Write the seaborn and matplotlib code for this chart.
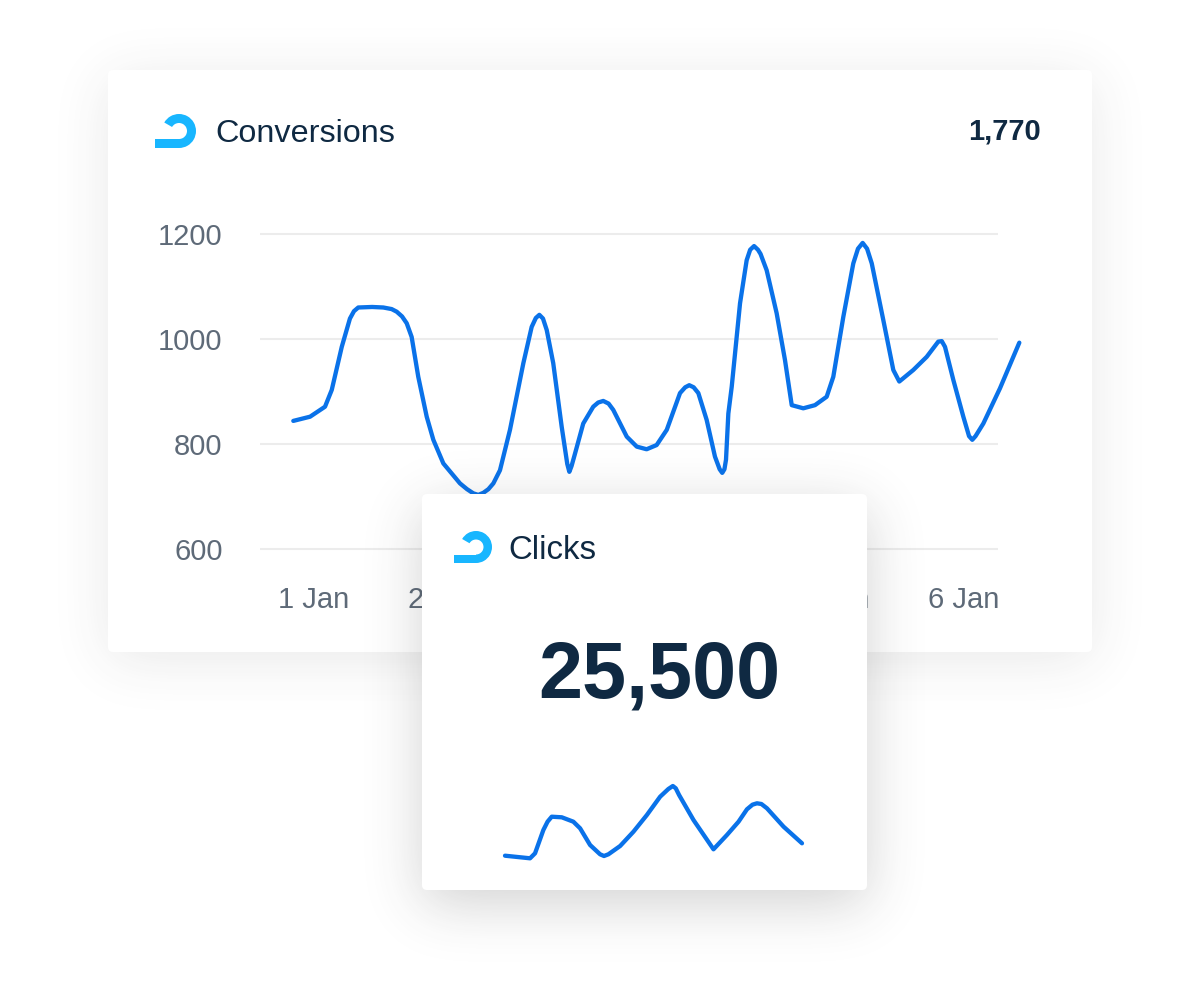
import numpy as np
import pandas as pd
import seaborn as sns
import matplotlib.pyplot as plt
from matplotlib.patches import FancyBboxPatch, Wedge, Rectangle

# Conversions by day
conv_day = [0.843, 0.972, 1.087, 1.139, 1.216, 1.279, 1.31, 1.343, 1.45, 1.536,
            1.60, 1.639, 1.68, 1.716, 1.754, 1.805, 1.870, 1.921, 1.998, 2.126,
            2.18, 2.229, 2.267, 2.306, 2.345, 2.383, 2.434, 2.511, 2.614, 2.678,
            2.71, 2.737, 2.765, 2.794, 2.844, 2.909, 2.952, 2.968, 2.985, 3.012,
            3.075, 3.152, 3.19, 3.229, 3.27, 3.306, 3.410, 3.487, 3.563, 3.640,
            3.718, 3.820, 3.86, 3.891, 3.925, 3.961, 4.025, 4.089, 4.125, 4.145,
            4.162, 4.174, 4.192, 4.218, 4.282, 4.333, 4.36, 4.39, 4.42, 4.44,
            4.487, 4.564, 4.628, 4.680, 4.769, 4.859, 4.949, 5.000, 5.077, 5.154,
            5.19, 5.226, 5.26, 5.296, 5.385, 5.462, 5.508, 5.616, 5.719, 5.808,
            5.835, 5.860, 5.924, 6.001, 6.045, 6.070, 6.095, 6.155, 6.283, 6.432]
conv_value = [844, 852, 871, 903, 985, 1039, 1053, 1060, 1061, 1060,
              1057, 1052, 1043, 1030, 1004, 928, 852, 808, 763, 725,
              714, 706, 703, 707, 714, 725, 750, 827, 954, 1023,
              1040, 1046, 1039, 1017, 954, 833, 762, 747, 758, 782,
              839, 871, 879, 882, 877, 865, 814, 795, 790, 798,
              827, 897, 908, 912, 908, 897, 846, 776, 752, 745,
              752, 770, 858, 909, 1068, 1150, 1170, 1177, 1170, 1162,
              1131, 1049, 960, 874, 868, 874, 890, 928, 1042, 1144,
              1172, 1183, 1172, 1144, 1036, 941, 919, 941, 966, 995,
              996, 985, 922, 852, 815, 808, 815, 839, 906, 993]

conv_ticks = [600, 800, 1000, 1200]
day_ticks = [1, 2, 3, 4, 5, 6]
day_labels = ['1 Jan', '2 Jan', '3 Jan', '4 Jan', '5 Jan', '6 Jan']
conv_total = '1,770'

# Clicks sparkline
clicks_day = [1.0, 1.506, 1.607, 1.775, 1.86, 1.944, 2.147, 2.381, 2.517, 2.719,
              2.921, 3.0, 3.089, 3.326, 3.595, 3.866, 4.134, 4.30, 4.391, 4.45,
              4.517, 4.808, 5.212, 5.483, 5.718, 5.888, 6.0, 6.090, 6.18, 6.292,
              6.628, 7.0]
clicks_value = [3129, 3051, 3201, 3900, 4150, 4299, 4281, 4149, 3951, 3450,
                3171, 3120, 3171, 3420, 3849, 4350, 4899, 5130, 5220, 5150,
                4950, 4200, 3321, 3750, 4149, 4521, 4660, 4701, 4680, 4551,
                3999, 3501]
clicks_total = '25,500'

sns.set_theme(style='white')
plt.rcParams['font.family'] = ['Liberation Sans', 'DejaVu Sans']

LINE = '#0a72e9'
NAVY = '#0f2942'
GREY = '#5e6a78'
LOGO = '#18b6ff'

fig = plt.figure(figsize=(12, 10), dpi=100)
fig.patch.set_facecolor('white')


def overlay(z):
    a = fig.add_axes([0, 0, 1, 1], zorder=z)
    a.set_xlim(0, 1200)
    a.set_ylim(1000, 0)
    a.axis('off')
    a.patch.set_alpha(0)
    return a


def blur_1d(n, lo, hi, sigma):
    pos = np.arange(n) + 0.5
    box = ((pos >= lo) & (pos <= hi)).astype(float)
    k = np.arange(-3 * sigma, 3 * sigma + 1)
    k = np.exp(-0.5 * (k / sigma) ** 2)
    return np.convolve(box, k / k.sum(), mode='same')


def card(a, x0, y0, x1, y1, sigma, strength, dy):
    alpha = np.outer(blur_1d(1000, y0 + dy, y1 + dy, sigma), blur_1d(1200, x0, x1, sigma))
    img = np.zeros((1000, 1200, 4))
    img[..., :3] = 0.2
    img[..., 3] = alpha * strength
    a.imshow(img, extent=(0, 1200, 1000, 0), zorder=1, interpolation='bilinear', aspect='auto')
    a.set_xlim(0, 1200)
    a.set_ylim(1000, 0)
    a.add_patch(FancyBboxPatch((x0, y0), x1 - x0, y1 - y0,
                               boxstyle='round,pad=0,rounding_size=5',
                               fc='white', ec='none', zorder=2))


def logo(a, cx, cy, r, w, left):
    a.add_patch(Wedge((cx, cy), r, -150, 90, width=w, fc=LOGO, ec='none', zorder=3))
    a.add_patch(Rectangle((left, cy + r - w), cx - left, w, fc=LOGO, ec='none', zorder=3))


# main card
bg = overlay(0)
card(bg, 108, 70, 1092, 652, 28, 0.11, 8)
logo(bg, 179, 131, 17, 9, 155)
bg.text(215, 142, 'Conversions', fontsize=23.3, color=NAVY, va='baseline', ha='left', zorder=4)
bg.text(1041, 140, conv_total, fontsize=21, color=NAVY, fontweight='bold',
        va='baseline', ha='right', zorder=4)

# conversions line chart
ax = fig.add_axes([260 / 1200, 1 - 554.25 / 1000, 738 / 1200, 325.5 / 1000], zorder=1)
ax.patch.set_alpha(0)
df = pd.DataFrame({'day': conv_day, 'conversions': conv_value})
sns.lineplot(data=df, x='day', y='conversions', ax=ax, color=LINE, linewidth=3.1,
             estimator=None, sort=False)
for ln in ax.lines:
    ln.set_clip_on(False)
    ln.set_solid_capstyle('round')
    ln.set_solid_joinstyle('round')
ax.set_xlim(1 + (260 - 313.7) / 129.9, 1 + (998 - 313.7) / 129.9)
ax.set_ylim(590, 1210)
ax.set_yticks(conv_ticks)
ax.set_yticklabels([str(v) for v in conv_ticks])
ax.set_xticks(day_ticks)
ax.set_xticklabels(day_labels)
ax.grid(axis='y', color='#ececec', linewidth=1.5)
ax.grid(axis='x', visible=False)
for s in ax.spines.values():
    s.set_visible(False)
ax.tick_params(axis='y', length=0, pad=27, labelsize=21, labelcolor=GREY)
ax.tick_params(axis='x', length=0, pad=23, labelsize=21, labelcolor=GREY)
ax.set_xlabel('')
ax.set_ylabel('')

# clicks card
ov = overlay(2)
card(ov, 422, 494, 867, 890, 28, 0.22, 14)
logo(ov, 476, 547, 16, 8.5, 454)
ov.text(508, 559, 'Clicks', fontsize=23.8, color=NAVY, va='baseline', ha='left', zorder=4)
ov.text(659, 698, clicks_total, fontsize=57, color=NAVY, fontweight='bold',
        va='baseline', ha='center', zorder=4)

sp = fig.add_axes([505 / 1200, 1 - 860 / 1000, 297 / 1200, 76 / 1000], zorder=3)
sp.patch.set_alpha(0)
sns.lineplot(x=clicks_day, y=clicks_value, ax=sp, color=LINE, linewidth=3.1,
             estimator=None, sort=False)
for ln in sp.lines:
    ln.set_clip_on(False)
    ln.set_solid_capstyle('round')
    ln.set_solid_joinstyle('round')
sp.set_xlim(1, 7)
sp.set_ylim(3000, 5280)
sp.axis('off')

fig.savefig('out.png', dpi=100)
